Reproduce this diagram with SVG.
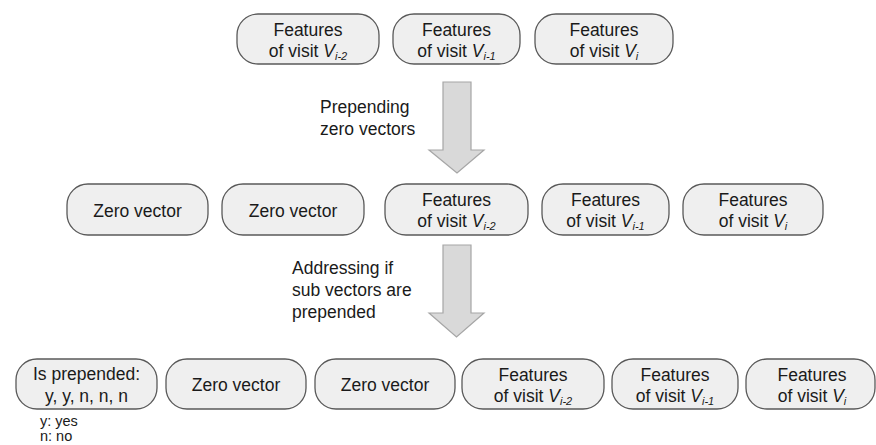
<svg xmlns="http://www.w3.org/2000/svg" width="876" height="445" viewBox="0 0 876 445">
<style>
.box{fill:#efefef;stroke:#595959;stroke-width:1.3}
.arr{fill:#d9d9d9;stroke:#a6a6a6;stroke-width:1.2}
text{font-family:"Liberation Sans",Arial,sans-serif;font-size:17.5px;fill:#1a1a1a}
.c{text-anchor:middle}
.v{font-style:italic}
.s{font-style:italic;font-size:11px}
.lg{font-size:14.5px}
</style>
<rect width="876" height="445" fill="#ffffff"/>
<g id="connectors">
<path class="arr" d="M443,82 H471 V150 H484 L457,173 L429,150 H443 Z"/>
<path class="arr" d="M443,245 H471 V313 H484 L456.5,337 L429,313 H443 Z"/>
<text x="320" y="113">Prepending</text>
<text x="320" y="135">zero vectors</text>
<text x="292" y="274">Addressing if</text>
<text x="292" y="296">sub vectors are</text>
<text x="292" y="318">prepended</text>
</g>
<g id="r1n1"><rect class="box" x="237" y="14" width="142" height="50" rx="21"/>
<text class="c" x="308" y="36">Features</text>
<text class="c" x="308" y="57">of visit <tspan class="v">V</tspan><tspan class="s" dy="3">i-2</tspan></text></g>
<g id="r1n2"><rect class="box" x="393" y="14" width="127" height="50" rx="21"/>
<text class="c" x="456.5" y="36">Features</text>
<text class="c" x="456.5" y="57">of visit <tspan class="v">V</tspan><tspan class="s" dy="3">i-1</tspan></text></g>
<g id="r1n3"><rect class="box" x="535" y="14" width="138" height="50" rx="21"/>
<text class="c" x="604" y="36">Features</text>
<text class="c" x="604" y="57">of visit <tspan class="v">V</tspan><tspan class="s" dy="3">i</tspan></text></g>

<g id="r2n1"><rect class="box" x="67" y="184" width="141" height="51" rx="21"/>
<text class="c" x="137.5" y="217">Zero vector</text></g>
<g id="r2n2"><rect class="box" x="222" y="184" width="142" height="51" rx="21"/>
<text class="c" x="293" y="217">Zero vector</text></g>
<g id="r2n3"><rect class="box" x="385" y="184" width="143" height="51" rx="21"/>
<text class="c" x="456.5" y="206">Features</text>
<text class="c" x="456.5" y="227">of visit <tspan class="v">V</tspan><tspan class="s" dy="3">i-2</tspan></text></g>
<g id="r2n4"><rect class="box" x="542" y="184" width="127" height="51" rx="21"/>
<text class="c" x="605.5" y="206">Features</text>
<text class="c" x="605.5" y="227">of visit <tspan class="v">V</tspan><tspan class="s" dy="3">i-1</tspan></text></g>
<g id="r2n5"><rect class="box" x="683" y="184" width="140" height="51" rx="21"/>
<text class="c" x="753" y="206">Features</text>
<text class="c" x="753" y="227">of visit <tspan class="v">V</tspan><tspan class="s" dy="3">i</tspan></text></g>

<g id="r3n1"><rect class="box" x="16" y="359" width="141" height="50" rx="21"/>
<text class="c" x="86.5" y="380">Is prepended:</text>
<text class="c" x="86.5" y="402">y, y, n, n, n</text></g>
<g id="r3n2"><rect class="box" x="166" y="359" width="140" height="50" rx="21"/>
<text class="c" x="236" y="391">Zero vector</text></g>
<g id="r3n3"><rect class="box" x="315" y="359" width="140" height="50" rx="21"/>
<text class="c" x="385" y="391">Zero vector</text></g>
<g id="r3n4"><rect class="box" x="462" y="359" width="142" height="50" rx="21"/>
<text class="c" x="533" y="381">Features</text>
<text class="c" x="533" y="402">of visit <tspan class="v">V</tspan><tspan class="s" dy="3">i-2</tspan></text></g>
<g id="r3n5"><rect class="box" x="612" y="359" width="126" height="50" rx="21"/>
<text class="c" x="675" y="381">Features</text>
<text class="c" x="675" y="402">of visit <tspan class="v">V</tspan><tspan class="s" dy="3">i-1</tspan></text></g>
<g id="r3n6"><rect class="box" x="746" y="359" width="129" height="50" rx="21"/>
<text class="c" x="812" y="381">Features</text>
<text class="c" x="812" y="402">of visit <tspan class="v">V</tspan><tspan class="s" dy="3">i</tspan></text></g>

<g id="legend">
<text class="lg" x="40" y="426">y: yes</text>
<text class="lg" x="40" y="441">n: no</text>
</g>
</svg>
